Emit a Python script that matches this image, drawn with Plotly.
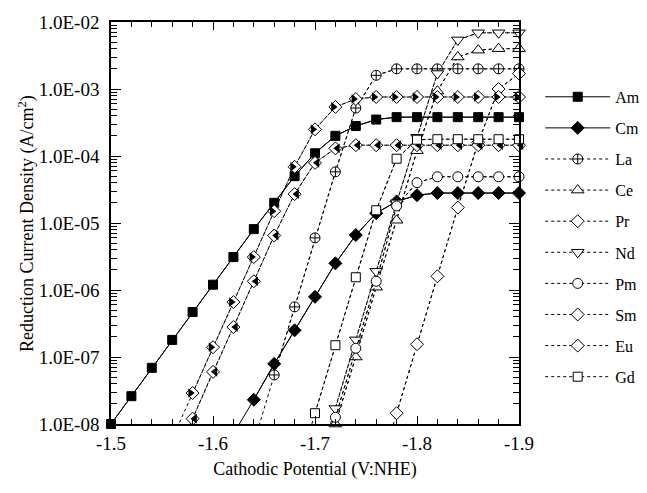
import plotly.graph_objects as go

# Cathodic potential grid (V vs NHE)
POTENTIAL = [-1.50, -1.52, -1.54, -1.56, -1.58, -1.60, -1.62, -1.64, -1.66, -1.68,
             -1.70, -1.72, -1.74, -1.76, -1.78, -1.80, -1.82, -1.84, -1.86, -1.88, -1.90]

# Reduction current densities (A/cm2); each series ends at -1.90 V
am = [1.0e-8, 2.6e-8, 6.9e-8, 1.8e-7, 4.7e-7, 1.2e-6, 3.1e-6, 8.1e-6, 2.0e-5, 5.0e-5,
      1.1e-4, 2.0e-4, 2.8e-4, 3.5e-4, 3.8e-4, 3.8e-4, 3.8e-4, 3.8e-4, 3.8e-4, 3.8e-4, 3.8e-4]
cm = [7.1e-9, 2.3e-8, 7.9e-8, 2.5e-7, 7.9e-7, 2.5e-6, 6.6e-6, 1.4e-5, 2.1e-5, 2.6e-5,
      2.8e-5, 2.8e-5, 2.8e-5, 2.8e-5, 2.8e-5]
la = [5.2e-9, 5.4e-8, 5.6e-7, 6.0e-6, 5.8e-5, 5.2e-4, 1.6e-3,
      2.0e-3, 2.0e-3, 2.0e-3, 2.0e-3, 2.0e-3, 2.0e-3, 2.0e-3]
ce = [9.3e-10, 1.0e-8, 1.0e-7, 1.1e-6, 1.1e-5, 1.2e-4, 9.3e-4, 3.0e-3, 3.8e-3, 4.0e-3, 4.0e-3]
pr = [1.35e-9, 1.45e-8, 1.55e-7, 1.6e-6, 1.7e-5, 1.6e-4, 1.0e-3, 1.7e-3]
nd = [1.7e-9, 1.7e-8, 1.8e-7, 1.9e-6, 2.0e-5, 1.9e-4, 1.7e-3, 5.4e-3, 6.9e-3, 6.9e-3, 6.9e-3]
pm = [1.2e-9, 1.26e-8, 1.35e-7, 1.35e-6, 1.8e-5, 4.0e-5, 4.9e-5, 4.9e-5, 4.9e-5, 4.9e-5, 4.9e-5]
sm = [6.0e-9, 2.9e-8, 1.4e-7, 6.6e-7, 3.1e-6, 1.5e-5, 6.9e-5, 2.5e-4, 5.4e-4, 7.1e-4,
      7.6e-4, 7.6e-4, 7.6e-4, 7.6e-4, 7.6e-4, 7.6e-4, 7.6e-4, 7.6e-4]
eu = [2.5e-9, 1.2e-8, 6.0e-8, 2.8e-7, 1.35e-6, 6.5e-6, 2.7e-5, 7.9e-5, 1.3e-4,
      1.45e-4, 1.45e-4, 1.45e-4, 1.45e-4, 1.45e-4, 1.45e-4, 1.45e-4, 1.45e-4, 1.45e-4]
gd = [1.4e-9, 1.45e-8, 1.5e-7, 1.55e-6, 1.55e-5, 9.1e-5, 1.75e-4,
      1.78e-4, 1.78e-4, 1.78e-4, 1.78e-4, 1.78e-4]

Y_TICKS = [1e-8, 1e-7, 1e-6, 1e-5, 1e-4, 1e-3, 1e-2]
Y_TICK_TEXT = ["1.0E-08", "1.0E-07", "1.0E-06", "1.0E-05", "1.0E-04", "1.0E-03", "1.0E-02"]
X_TICKS = [-1.5, -1.6, -1.7, -1.8, -1.9]
X_TICK_TEXT = ["-1.5", "-1.6", "-1.7", "-1.8", "-1.9"]
Y_TITLE = "Reduction Current Density (A/cm<sup>2</sup>)"
X_TITLE = "Cathodic Potential (V:NHE)"

FONT = "Liberation Serif"
YMIN = 1e-8

# name, values, symbol, fill, solid?, half-fill side
series = [
    ("Am", am, "square", "black", True, None),
    ("Cm", cm, "diamond", "black", True, None),
    ("La", la, "circle-cross", "white", False, None),
    ("Ce", ce, "triangle-up", "white", False, None),
    ("Pr", pr, "diamond", "white", False, None),
    ("Nd", nd, "triangle-down", "white", False, None),
    ("Pm", pm, "circle", "white", False, None),
    ("Sm", sm, "diamond", "white", False, "right"),
    ("Eu", eu, "diamond", "white", False, "left"),
    ("Gd", gd, "square", "white", False, None),
]

fig = go.Figure()

# full lines (including points below the axis), clipped to the plot area
for name, vals, sym, fill, solid, half in series:
    xs = POTENTIAL[-len(vals):]
    fig.add_trace(go.Scatter(
        x=xs, y=vals, mode="lines", showlegend=False, legendgroup=name,
        line=dict(color="black", width=1, dash="solid" if solid else "3px,3px"),
        hoverinfo="skip"))

for name, vals, sym, fill, solid, half in series:
    xs = POTENTIAL[-len(vals):]
    px = [x for x, v in zip(xs, vals) if v >= 0.99 * YMIN]
    py = [v for v in vals if v >= 0.99 * YMIN]
    size = 9 if sym == "square" else (11 if sym.startswith("triangle") else 10)
    fig.add_trace(go.Scatter(
        x=px, y=py, mode="lines+markers", name=name, legendgroup=name,
        cliponaxis=False,
        line=dict(color="black", width=1, dash="solid" if solid else "3px,3px"),
        marker=dict(symbol=sym, size=size, color=fill,
                    line=dict(color="black", width=1))))
    if half:
        ang = 90 if half == "right" else -90
        fig.add_trace(go.Scatter(
            x=px, y=py, mode="markers", showlegend=False, legendgroup=name,
            cliponaxis=False, hoverinfo="skip",
            marker=dict(symbol="triangle-up", size=8.4, color="black",
                        angle=ang, standoff=2.1, line=dict(width=0))))

minor_y = [m * 10.0 ** e for e in range(-8, -2) for m in range(2, 10)]

# page body adds an 8px margin on every side: figure is 631x477 so the page is 647x493
fig.update_layout(
    width=631, height=477,
    margin=dict(l=103, r=120, t=14, b=61, autoexpand=False),
    paper_bgcolor="white", plot_bgcolor="white",
    font=dict(family=FONT, size=18, color="black"),
    showlegend=True,
    legend=dict(x=1.052, xanchor="left", y=0.856, yanchor="top",
                font=dict(family=FONT, size=16, color="black"), itemwidth=65,
                tracegroupgap=7.3, bgcolor="rgba(0,0,0,0)"),
    xaxis=dict(
        range=[-1.5, -1.9], tickmode="array", tickvals=X_TICKS, ticktext=X_TICK_TEXT,
        ticks="inside", ticklen=8, tickwidth=1, tickcolor="black",
        showline=True, linecolor="black", linewidth=1.5, mirror="allticks",
        showgrid=False, zeroline=False, automargin=False, ticklabelstandoff=1,
        minor=dict(ticks="inside", ticklen=5, dtick=0.02, tickcolor="black", showgrid=False),
        title=dict(text=X_TITLE, font=dict(family=FONT, size=18, color="black"), standoff=10),
        tickfont=dict(family=FONT, size=19, color="black"),
    ),
    yaxis=dict(
        type="log", range=[-8, -2], tickmode="array", tickvals=Y_TICKS, ticktext=Y_TICK_TEXT,
        ticks="inside", ticklen=10, tickwidth=1, tickcolor="black",
        showline=True, linecolor="black", linewidth=1.5, mirror="allticks",
        showgrid=False, zeroline=False, automargin=False, ticklabelstandoff=6,
        minor=dict(ticks="inside", ticklen=6, tickmode="array", tickvals=minor_y,
                   tickcolor="black", showgrid=False),
        tickfont=dict(family=FONT, size=19, color="black"),
    ),
    annotations=[dict(
        text=Y_TITLE, textangle=-90, xref="paper", yref="paper",
        x=-0.206, y=0.5, xanchor="center", yanchor="middle", showarrow=False,
        font=dict(family=FONT, size=18, color="black"))],
)

fig.write_html("out.html")
